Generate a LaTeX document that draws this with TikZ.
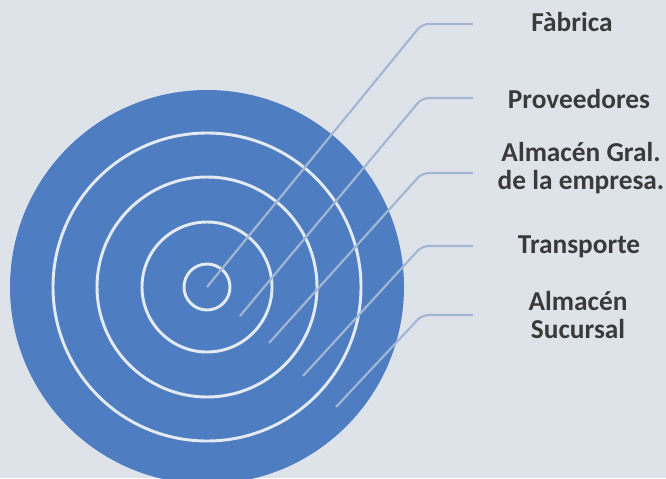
\documentclass[tikz,border=0pt]{standalone}
\usepackage{fontspec}
\setmainfont{Carlito}
\definecolor{bgc}{HTML}{DEE3EA}
\definecolor{diskc}{HTML}{4E7EC1}
\definecolor{ringc}{HTML}{E4EAF2}
\definecolor{leadc}{HTML}{A3B6D3}
\definecolor{txtc}{HTML}{3A3A3A}
\begin{document}
\begin{tikzpicture}[x=0.75pt,y=-0.75pt,
  ring/.style={draw=ringc,line width=2.2pt},
  leader/.style={draw=leadc,line width=1.6pt,rounded corners=5pt},
  lbl/.style={text=txtc,font=\bfseries\fontsize{20.5}{21}\selectfont,align=center,inner sep=0pt}]
\fill[bgc] (0,0) rectangle (666,478);
\useasboundingbox (0,0) rectangle (666,478);
\clip (0,0) rectangle (666,478);
\coordinate (c) at (207,287);
\fill[diskc] (c) circle[radius=197];
\draw[ring] (c) circle[radius=154];
\draw[ring] (c) circle[radius=110];
\draw[ring] (c) circle[radius=65];
\draw[ring] (c) circle[radius=23];
% label nodes
\node[lbl,anchor=base] (fab) at (572,32) {Fàbrica};
\node[lbl,anchor=base] (prov) at (579,108) {Proveedores};
\node[lbl] (gral) at (581,168) {Almacén Gral.\\de la empresa.};
\node[lbl,anchor=base] (trans) at (579,253) {Transporte};
\node[lbl] (suc) at (578,315) {Almacén\\Sucursal};
% leader ends
\coordinate (e1) at (207,287);
\coordinate (e2) at (240,316);
\coordinate (e3) at (269,343);
\coordinate (e4) at (303,376);
\coordinate (e5) at (336,407);
\draw[leader] (e1) -- (422,24) -- (473,24);
\draw[leader] (e2) -- (422,98) -- (473,98);
\draw[leader] (e3) -- (422,173) -- (473,173);
\draw[leader] (e4) -- (422,246) -- (473,246);
\draw[leader] (e5) -- (422,315) -- (473,315);
\end{tikzpicture}
\end{document}
